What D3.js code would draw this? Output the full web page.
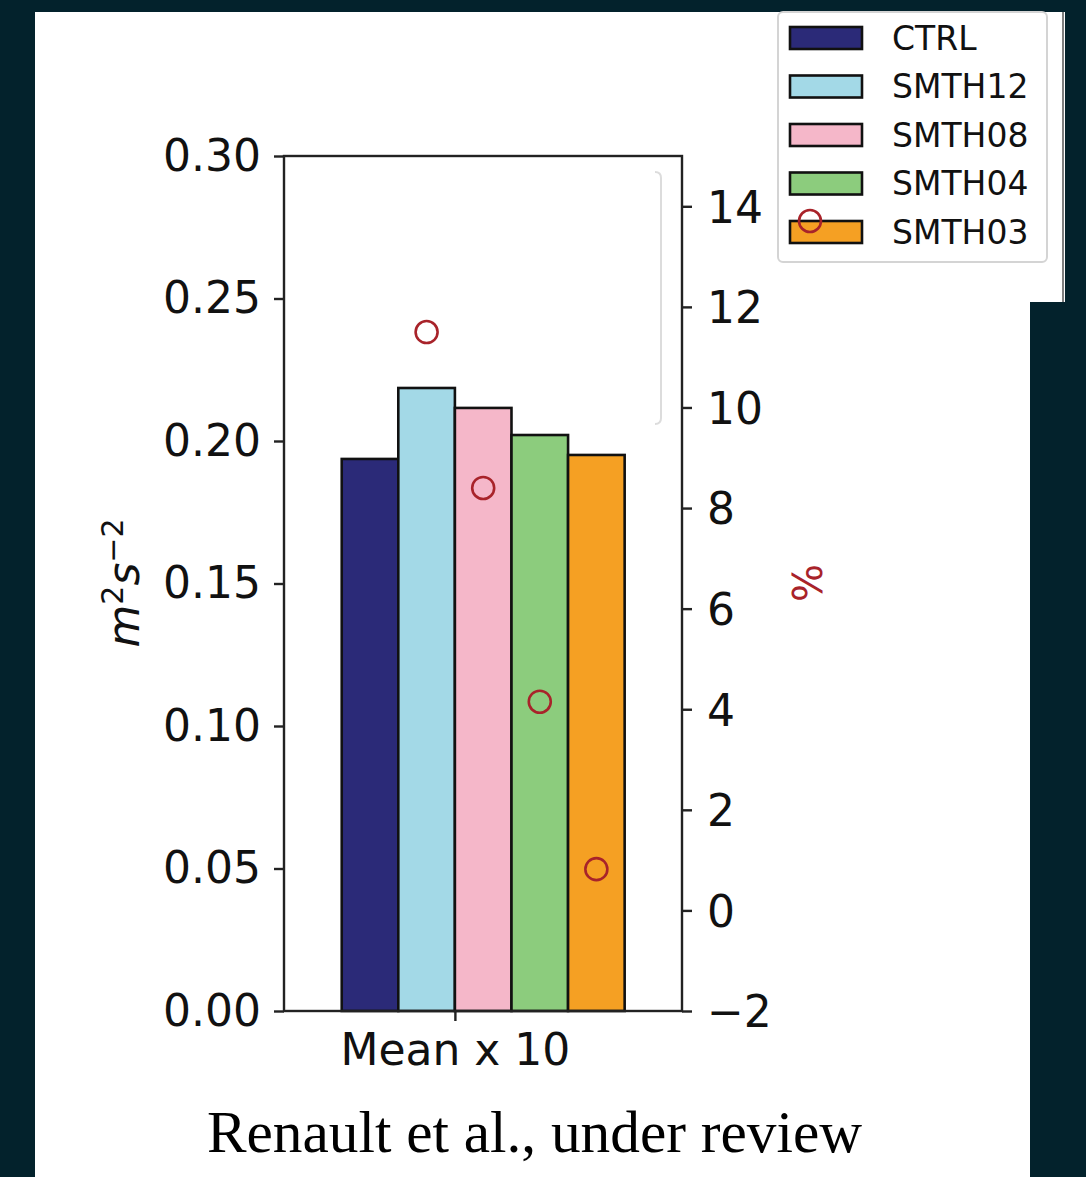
<!DOCTYPE html>
<html>
<head>
<meta charset="utf-8">
<script src="https://cdn.jsdelivr.net/npm/d3@7"></script>
<style>
  html, body { margin: 0; padding: 0; background: #03222c; }
  svg { display: block; }
</style>
</head>
<body>
<div id="chart"></div>
<script>
// data
const runs = ["CTRL", "SMTH12", "SMTH08", "SMTH04", "SMTH03"];
const meanValues = [0.1937, 0.2186, 0.2116, 0.2021, 0.1951]; // m2 s-2 (left axis)
const pctChange = [null, 11.5, 8.4, 4.15, 0.82];            // % vs CTRL (right axis)
const runColors = ["#2b2a78", "#a3d9e7", "#f5b7c9", "#8ccc7d", "#f5a023"];
const leftTicks = [0, 0.05, 0.10, 0.15, 0.20, 0.25, 0.30];
const rightTicks = [-2, 0, 2, 4, 6, 8, 10, 12, 14];
const categoryLabel = "Mean x 10";
const caption = "Renault et al., under review";

const W = 1086, H = 1177;
const margin = { top: 156, right: 404, bottom: 166, left: 284 };
const plotW = W - margin.left - margin.right;
const plotH = H - margin.top - margin.bottom;
const barWidth = 0.15;

const svg = d3.select("#chart").append("svg")
  .attr("width", W)
  .attr("height", H);

// background panels
svg.append("rect").attr("width", W).attr("height", H).attr("fill", "#03222c");
svg.append("rect").attr("x", 35).attr("y", 12).attr("width", 995).attr("height", H - 12).attr("fill", "#fff");
svg.append("rect").attr("x", 1029).attr("y", 12).attr("width", 36).attr("height", 290).attr("fill", "#fff");
svg.append("line").attr("x1", 1063).attr("x2", 1063).attr("y1", 12).attr("y2", 302)
  .attr("stroke", "#555").attr("stroke-width", 1.5);

const g = svg.append("g").attr("transform", `translate(${margin.left},${margin.top})`);

const x = d3.scaleLinear().domain([-0.453, 0.602]).range([0, plotW]);
const y = d3.scaleLinear().domain([0, 0.3]).range([plotH, 0]);
const y2 = d3.scaleLinear().domain([-2, 15]).range([plotH, 0]);

// faint ghost of a legend frame inside the axes
g.append("path")
  .attr("d", `M${plotW - 27},16 q6,0 6,6 V262 q0,6 -6,6`)
  .attr("fill", "none").attr("stroke", "#dcdcdc").attr("stroke-width", 2);

// bars
const bars = runs.map((r, i) => ({ run: r, value: meanValues[i], left: (i - 2) * barWidth, color: runColors[i] }));
g.selectAll("rect.bar").data(bars).join("rect")
  .attr("class", "bar")
  .attr("x", d => x(d.left))
  .attr("y", d => y(d.value))
  .attr("width", d => x(d.left + barWidth) - x(d.left))
  .attr("height", d => y(0) - y(d.value))
  .attr("fill", d => d.color)
  .attr("stroke", "#111")
  .attr("stroke-width", 2.6);

// % markers
const pts = bars.map((d, i) => ({ ...d, pct: pctChange[i] })).filter(d => d.pct !== null);
g.selectAll("circle.pct").data(pts).join("circle")
  .attr("class", "pct")
  .attr("cx", d => x(d.left + barWidth / 2))
  .attr("cy", d => y2(d.pct))
  .attr("r", 11)
  .attr("fill", "none")
  .attr("stroke", "#a8232a")
  .attr("stroke-width", 2.6);

const tickFont = "'DejaVu Sans', sans-serif";

// left axis
const yAxis = g.append("g")
  .call(d3.axisLeft(y).tickValues(leftTicks).tickFormat(d3.format(".2f")).tickSize(10).tickPadding(13));
// right axis
const y2Axis = g.append("g").attr("transform", `translate(${plotW},0)`)
  .call(d3.axisRight(y2).tickValues(rightTicks).tickSize(10).tickPadding(15));
// bottom axis
const xAxis = g.append("g").attr("transform", `translate(0,${plotH})`)
  .call(d3.axisBottom(x).tickValues([0]).tickFormat(() => categoryLabel).tickSize(10).tickPadding(9));

[yAxis, y2Axis, xAxis].forEach(a => {
  a.select(".domain").remove();
  a.selectAll(".tick line").attr("stroke", "#222").attr("stroke-width", 2.4);
  a.selectAll(".tick text")
    .attr("fill", "#111")
    .style("font-family", tickFont)
    .style("font-size", "44px");
});
y2Axis.selectAll(".tick text").attr("dy", "0.36em");
xAxis.selectAll(".tick text").attr("dy", "0.8em");

// frame
g.append("rect")
  .attr("width", plotW).attr("height", plotH)
  .attr("fill", "none").attr("stroke", "#222").attr("stroke-width", 2.4);

// axis titles
const yl = svg.append("text")
  .attr("transform", `translate(139,583) rotate(-90)`)
  .attr("text-anchor", "middle")
  .attr("fill", "#111")
  .style("font-family", tickFont)
  .style("font-size", "44px");
yl.append("tspan").attr("font-style", "italic").text("m");
yl.append("tspan").attr("dy", "-16").style("font-size", "30px").text("2");
yl.append("tspan").attr("dy", "16").attr("font-style", "italic").text("s");
yl.append("tspan").attr("dy", "-16").style("font-size", "30px").text("\u22122");

svg.append("text")
  .attr("transform", `translate(822,583) rotate(-90)`)
  .attr("text-anchor", "middle")
  .attr("fill", "#a8232a")
  .style("font-family", tickFont)
  .style("font-size", "40px")
  .text("%");

// legend
const legend = svg.append("g").attr("transform", "translate(778,12)");
legend.append("rect")
  .attr("width", 269).attr("height", 250).attr("rx", 5)
  .attr("fill", "#fff").attr("fill-opacity", 0.9)
  .attr("stroke", "#d4d4d4").attr("stroke-width", 2);
const rowH = 48.5;
const rows = legend.selectAll("g.row").data(bars).join("g")
  .attr("class", "row")
  .attr("transform", (d, i) => `translate(12,${26 + i * rowH})`);
rows.append("rect")
  .attr("x", 0).attr("y", -11).attr("width", 72).attr("height", 22)
  .attr("fill", d => d.color).attr("stroke", "#111").attr("stroke-width", 2.6);
rows.append("text")
  .attr("x", 102).attr("y", 0).attr("dy", "0.36em")
  .attr("fill", "#111")
  .style("font-family", tickFont)
  .style("font-size", "33px")
  .text(d => d.run);
// stray % marker that sits on the last legend handle
legend.append("circle")
  .attr("cx", 32).attr("cy", 26 + 4 * rowH - 11)
  .attr("r", 11).attr("fill", "none").attr("stroke", "#a8232a").attr("stroke-width", 2.6);

// caption
svg.append("text")
  .attr("x", 207).attr("y", 1152)
  .attr("textLength", 655).attr("lengthAdjust", "spacingAndGlyphs")
  .attr("fill", "#000")
  .style("font-family", "'Liberation Serif', serif")
  .style("font-size", "60px")
  .text(caption);
</script>
</body>
</html>
